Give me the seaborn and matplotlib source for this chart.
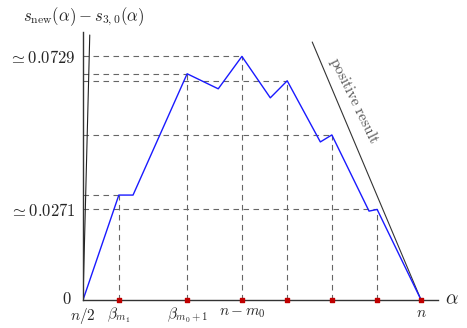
import numpy as np
import pandas as pd
import matplotlib.pyplot as plt
import seaborn as sns

# piecewise curve s_new(alpha) - s_{3,0}(alpha), alpha expressed as a fraction of n
alpha = [0.5, 0.553, 0.574, 0.654, 0.700, 0.735, 0.777, 0.802, 0.851, 0.868, 0.923, 0.935, 1.0]
diff = [0.0, 0.0314, 0.0314, 0.0677, 0.0632, 0.0729, 0.0605, 0.0656, 0.0473, 0.0494, 0.0266, 0.0271, 0.0]
peak_idx = [1, 3, 5, 7, 9, 11]
valley_idx = [2, 4, 6, 8, 10]

# "positive result" bound (two steep edges)
bound_left_x = [0.5, 0.510]
bound_left_y = [0.0, 0.0793]
bound_right_x = [0.839, 1.0]
bound_right_y = [0.0772, 0.0]

xtick_labels = {0.5: r'$n/2$', 0.553: r'$\beta_{m_1}$', 0.654: r'$\beta_{m_0+1}$',
                0.735: r'$n-m_0$', 1.0: r'$n$'}
ytick_labels = {0.0271: r'$\simeq 0.0271$', 0.0729: r'$\simeq 0.0729$'}

sns.set_theme(style="white")
plt.rcParams['mathtext.fontset'] = 'cm'
plt.rcParams['font.family'] = ['DejaVu Serif']

fig = plt.figure(figsize=(4.67, 3.28), dpi=100)
ax = fig.add_axes([83 / 467, 1 - 300 / 328, (438 - 83) / 467, (300 - 32) / 328])

df = pd.DataFrame({'alpha': alpha, 'diff': diff})
peaks = df.iloc[peak_idx]

# dashed guides from the peaks to the axes
ax.hlines(peaks['diff'], 0.5, peaks['alpha'], colors='#666666', linestyles=(0, (5, 4)), lw=0.8)
ax.vlines(peaks['alpha'], 0, peaks['diff'], colors='#666666', linestyles=(0, (5, 4)), lw=0.8)

ax.plot(bound_left_x, bound_left_y, color='#222222', lw=0.8)
ax.plot(bound_right_x, bound_right_y, color='#333333', lw=0.8)

sns.lineplot(data=df, x='alpha', y='diff', sort=False, color='#1a1aff', lw=1.0, ax=ax)

red_x = list(peaks['alpha']) + [1.0]
ax.scatter(red_x, [0] * len(red_x), marker='s', s=9, color='#c00000', zorder=5, clip_on=False)

ax.set_xlim(0.5, 1.025)
ax.set_ylim(0, 0.0802)

xt = sorted(set([alpha[i] for i in peak_idx + valley_idx] + [0.5, 1.0]))
ax.set_xticks(xt)
ax.set_xticklabels([xtick_labels.get(v, '') for v in xt], fontsize=11)
yt = sorted(set([diff[i] for i in peak_idx]))
ax.set_yticks(yt)
ax.set_yticklabels([ytick_labels.get(v, '') for v in yt], fontsize=12)
ax.tick_params(axis='both', direction='inout', length=5, width=0.8, color='#222222', pad=3)
ax.tick_params(axis='x', pad=1.5)

# origin label, nudged left so it clears n/2
ax.annotate(r'$0$', xy=(0.5, 0), xytext=(-8, 0), textcoords='offset points',
            ha='right', va='center', fontsize=12, annotation_clip=False)

for side in ['top', 'right']:
    ax.spines[side].set_visible(False)
for side in ['left', 'bottom']:
    ax.spines[side].set_color('#333333')
    ax.spines[side].set_linewidth(1.0)

ax.set_xlabel('')
ax.set_ylabel('')
fig.text(84 / 467, 1 - 17 / 328, r'$s_{\mathrm{new}}(\alpha)-s_{3,0}(\alpha)$', fontsize=12,
         ha='center', va='center')
fig.text(452 / 467, 1 - 299 / 328, r'$\alpha$', fontsize=14, ha='center', va='center')
fig.text(354 / 467, 1 - 100 / 328, r'$\mathrm{positive\ result}$', fontsize=11, color='#555555',
         rotation=-64, ha='center', va='center', rotation_mode='anchor')

fig.savefig('out.png', dpi=100)
